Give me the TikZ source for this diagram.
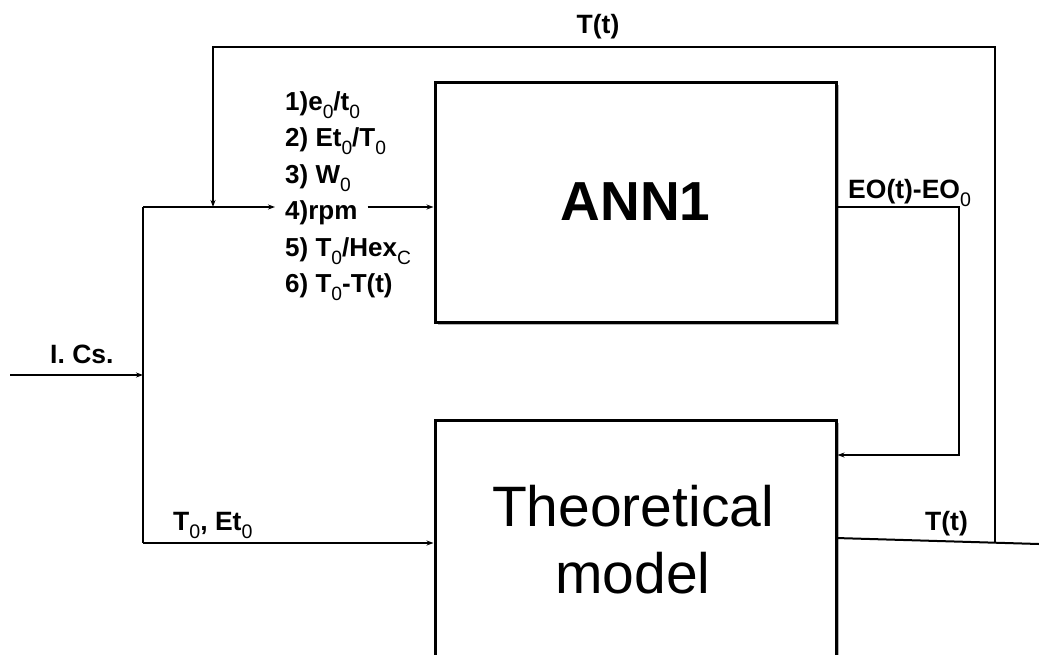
\documentclass[tikz,border=0pt]{standalone}
\usepackage{fontspec}
\setmainfont{Liberation Sans}
\usetikzlibrary{arrows.meta,shadows}
\newcommand\sbs[1]{\raisebox{-0.32em}{\scalebox{0.74}{\mdseries #1}}}
\begin{document}
\begin{tikzpicture}[x=1pt,y=-1pt,
 box/.style={draw,fill=white,line width=3pt,inner sep=0pt,
   general shadow={shadow xshift=2.5pt,shadow yshift=-2.5pt,fill=gray!60}},
 conn/.style={line width=2pt},
 arr/.style={conn,-{Stealth[length=7pt,width=5pt]}},
 lbl/.style={font=\fontsize{26.5}{30}\selectfont\bfseries,inner sep=0pt,anchor=base west},
 lst/.style={font=\fontsize{26}{30}\selectfont\bfseries,inner sep=0pt,anchor=base west}]
\useasboundingbox (0,0) rectangle (1039,654);
\clip (0,0) rectangle (1039,654);
% boxes
\node[box,minimum width=401pt,minimum height=240pt,font=\fontsize{55}{60}\selectfont\bfseries] (ann) at (635.5,202) {ANN1};
\node[box,minimum width=401pt,minimum height=320pt,anchor=north] (theo) at (635.5,419) {};
\node[align=center,font=\fontsize{57}{67}\selectfont,inner sep=0pt] (theotext) at (633,540) {Theoretical\\model};
% input list
\node[lst] (l1) at (285,110) {1)e\sbs{0}/t\sbs{0}};
\node[lst] (l2) at (285,146) {2) Et\sbs{0}/T\sbs{0}};
\node[lst] (l3) at (285,183) {3) W\sbs{0}};
\node[lst] (rpm) at (285,219) {4)rpm};
\node[lst] (l5) at (285,256) {5) T\sbs{0}/Hex\sbs{C}};
\node[lst] (l6) at (285,292) {6) T\sbs{0}-T(t)};
% labels
\node[lbl] (ics) at (50,363) {I. Cs.};
\node[lbl] (eo) at (848,198) {EO(t)-EO\sbs{0}};
\node[lbl] (tt2) at (925,530) {T(t)};
\node[lbl,anchor=base] (tt1) at (598,33) {T(t)};
\node[lbl] (t0) at (173,530) {T\sbs{0}, Et\sbs{0}};
% coordinates
\coordinate (jn) at (143,207);
\coordinate (in) at (10,375);
\coordinate (jb) at (143,543);
\coordinate (tl) at (213,47);
\coordinate (tr) at (995,47);
\coordinate (oa) at (836,538);
\coordinate (ob) at (1039,544);
\coordinate (tb) at (995,542.7);
\coordinate (eo1) at (959,207);
\coordinate (eo2) at (959,455);
% connectors
\draw[arr] (in) -- (in -| jn);
\draw[conn] (jn) -- (jb);
\draw[arr] (jb) -- (jb -| theo.west);
\draw[arr] (jn) -- ([xshift=-10pt]jn -| rpm.west);
\draw[arr] ([xshift=10pt]jn -| rpm.east) -- (jn -| ann.west);
\draw[arr] (ann.east |- eo1) -- (eo1) -- (eo2) -- (eo2 -| theo.east);
\draw[conn] (oa) -- (ob);
\draw[arr] (tb) -- (tr) -- (tl) -- (tl |- jn);
\end{tikzpicture}
\end{document}
